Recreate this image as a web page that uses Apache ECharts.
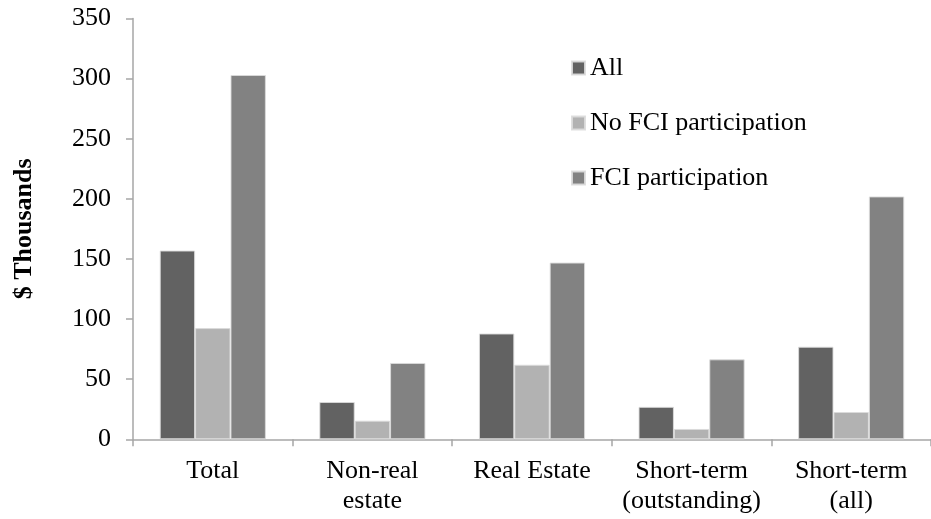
<!DOCTYPE html>
<html>
<head>
<meta charset="utf-8">
<script src="https://cdn.jsdelivr.net/npm/echarts@6/dist/echarts.min.js"></script>
<style>html,body{margin:0;padding:0;background:#fff}#c{width:931px;height:519px}</style>
</head>
<body>
<div id="c"></div>
<script>
const categories = ['Total', 'Non-real\nestate', 'Real Estate', 'Short-term\n(outstanding)', 'Short-term\n(all)'];
const seriesNames = ['All', 'No FCI participation', 'FCI participation'];
const allValues = [157, 31, 88, 27, 77];
const noFciValues = [92.5, 15.5, 62, 8.6, 22.7];
const fciValues = [303, 63.5, 147, 66.5, 202];
const yTicks = [0, 50, 100, 150, 200, 250, 300, 350];

const colors = ['#626262', '#b2b2b2', '#828282'];
const font = '"Liberation Serif", "Times New Roman", serif';
const fs = 26;
const chart = echarts.init(document.getElementById('c'));
const data = [allValues, noFciValues, fciValues];
chart.setOption({
  animation: false,
  grid: { left: 133, right: -6, top: 18.5, bottom: 79.7, containLabel: false },
  legend: {
    orient: 'vertical', left: 566, top: 50,
    itemWidth: 13, itemHeight: 13, itemGap: 29,
    icon: 'rect',
    textStyle: { fontFamily: font, fontSize: fs, color: '#000', lineHeight: 26 },
    data: seriesNames
  },
  xAxis: {
    type: 'category', data: categories,
    axisLine: { lineStyle: { color: '#a6a6a6', width: 1.5 } },
    axisTick: { show: true, length: 7, lineStyle: { color: '#a6a6a6', width: 1.5 } },
    axisLabel: { fontFamily: font, fontSize: fs, color: '#000', lineHeight: 30, margin: 17, interval: 0 }
  },
  yAxis: {
    type: 'value', min: yTicks[0], max: yTicks[yTicks.length - 1], interval: 50,
    name: '$ Thousands', nameLocation: 'middle', nameGap: 96, nameRotate: 90,
    nameTextStyle: { fontFamily: font, fontSize: fs, fontWeight: 'bold', color: '#000' },
    axisLine: { show: true, lineStyle: { color: '#a6a6a6', width: 1.5 } },
    axisTick: { show: true, length: 7, lineStyle: { color: '#a6a6a6', width: 1.5 } },
    splitLine: { show: false },
    axisLabel: { fontFamily: font, fontSize: fs, color: '#000', margin: 22 }
  },
  series: seriesNames.map((n, i) => ({
    name: n, type: 'bar', data: data[i],
    barGap: '0%', barCategoryGap: '33.5%',
    itemStyle: { color: colors[i], borderColor: 'rgba(220,220,220,0.9)', borderWidth: 1 }
  }))
});
</script>
</body>
</html>
